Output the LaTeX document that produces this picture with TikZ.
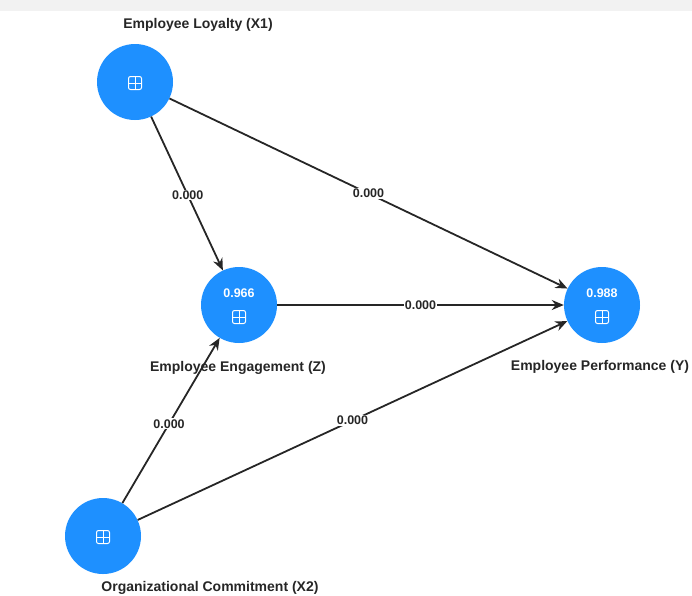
\documentclass[tikz,border=0pt]{standalone}
\usepackage{fontspec}
\setmainfont{Liberation Sans}
\usetikzlibrary{arrows.meta}
\definecolor{constblue}{HTML}{1E90FF}
\tikzstyle{construct} = [circle, minimum size=76pt, inner sep=0pt, fill=constblue, draw=none]
\tikzstyle{varname} = [font=\bfseries\fontsize{14}{16}\selectfont, text=black!85, inner sep=1pt]
\tikzstyle{pathlabel} = [font=\bfseries\fontsize{12.5}{14}\selectfont, fill=white, inner sep=1pt, text=black!85]
\tikzstyle{rsq} = [font=\bfseries\fontsize{12.5}{14}\selectfont, text=white]
\tikzstyle{icon} = [draw=white, line width=1pt, rounded corners=2pt, minimum size=13pt, inner sep=0pt,
  path picture={\draw[white, line width=1pt] (path picture bounding box.north) -- (path picture bounding box.south)
  (path picture bounding box.west) -- (path picture bounding box.east);}]
\tikzstyle{arrow} = [line width=1.8pt, black!85, -{Stealth[length=12pt,width=10pt]}]

\begin{document}
\begin{tikzpicture}[x=1pt, y=-1pt]
\useasboundingbox (0,0) rectangle (692,595);
\fill[black!5] (0,0) rectangle (692,11);

% constructs
\node(loyalty) [construct] at (135,82) {};
\node(engage)  [construct] at (239,305) {};
\node(perform) [construct] at (602,305) {};
\node(commit)  [construct] at (103,536) {};

% names
\node[varname] at (198,25)  {Employee Loyalty (X1)};
\node[varname] at (238,368) {Employee Engagement (Z)};
\node[varname] at (600,367) {Employee Performance (Y)};
\node[varname] at (210,588) {Organizational Commitment (X2)};

% r-square values and icons
\node[rsq] at (239,293) {0.966};
\node[rsq] at (602,293) {0.988};
\node[icon] at (135,83) {};
\node[icon] at (239,317) {};
\node[icon] at (602,317) {};
\node[icon] at (103,537) {};

% paths
\draw [arrow] (loyalty) -- node[pathlabel, pos=0.51]{0.000} (engage);
\draw [arrow] (loyalty) -- node[pathlabel, pos=0.5]{0.000} (perform);
\draw [arrow] (engage) -- node[pathlabel, pos=0.5]{0.000} (perform);
\draw [arrow] (commit) -- node[pathlabel, pos=0.48]{0.000} (engage);
\draw [arrow] (commit) -- node[pathlabel, pos=0.5]{0.000} (perform);

\end{tikzpicture}
\end{document}
